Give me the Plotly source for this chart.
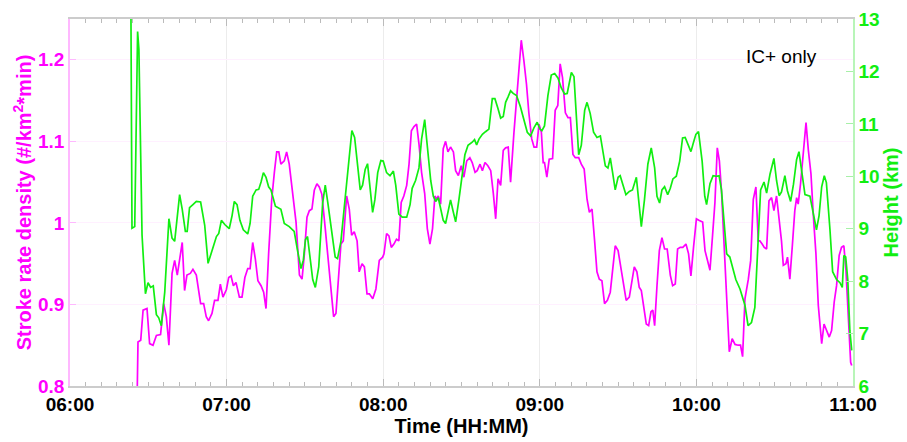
import pandas as pd
import plotly.graph_objects as go

# Minutes after 06:00 and stroke rate density (#/km^2*min), IC+ strokes
rate_minutes = [
    25.6, 26.05, 27.1, 28.0, 29.5, 30.5, 31.8, 33.1, 34.7, 35.9, 36.9, 37.9, 39.1, 40.1, 41.1, 42.0,
    43.0, 43.9, 44.8, 46.1, 47.1, 48.4, 50.05, 51.2, 52.2, 53.1, 54.4, 55.4, 56.7, 57.6, 58.6, 59.9,
    60.8, 61.7, 62.6, 63.6, 64.9, 65.9, 67.0, 68.1, 69.0, 70.0, 71.0, 72.0, 73.2, 74.2, 75.1, 76.1,
    77.3, 78.3, 79.2, 80.0, 80.8, 82.1, 83.0, 84.0, 85.3, 86.6, 87.9, 88.9, 89.8, 90.8, 91.7, 92.7,
    93.6, 94.6, 95.5, 96.5, 97.8, 99.1, 100.1, 101.0, 101.9, 102.9, 103.8, 104.7, 106.0, 107.0, 107.9,
    108.9, 110.0, 110.8, 111.9, 112.8, 113.8, 114.7, 116.0, 117.2, 118.5, 119.8, 120.3, 121.3, 122.2,
    123.1, 124.1, 125.1, 126.0, 126.9, 127.9, 129.0, 129.9, 130.8, 131.8, 132.8, 133.7, 134.7, 135.9,
    136.9, 137.9, 138.9, 139.8, 140.5, 141.1, 142.0, 143.0, 143.9, 144.8, 145.8, 146.9, 147.75, 148.8,
    149.9, 150.9, 152.0, 153.2, 154.1, 155.2, 156.0, 157.1, 158.0, 159.0, 160.1, 161.2, 162.2, 163.1,
    164.0, 165.0, 166.0, 166.9, 167.9, 168.8, 170.1, 171.1, 172.0, 172.9, 173.9, 174.9, 175.8, 176.9,
    177.8, 178.8, 179.7, 180.6, 181.3, 181.8, 182.7, 183.6, 184.9, 185.9, 186.9, 187.8, 188.7, 189.8,
    190.8, 191.7, 192.7, 193.6, 194.9, 195.9, 197.0, 198.1, 199.0, 200.0, 201.0, 201.9, 202.8, 203.8,
    204.8, 205.9, 207.0, 208.0, 208.9, 210.0, 211.2, 212.1, 213.1, 214.3, 215.3, 216.2, 217.2, 218.1,
    218.9, 219.8, 220.8, 221.7, 222.6, 223.3, 224.0, 224.9, 225.8, 226.8, 227.8, 228.8, 230.0, 230.9,
    231.9, 232.8, 233.8, 234.8, 236.0, 237.0, 237.9, 238.9, 240.0, 241.1, 242.4, 243.3, 244.2, 245.2,
    246.2, 247.1, 248.0, 248.8, 249.6, 250.5, 251.6, 252.6, 253.7, 254.8, 256.0, 256.9, 257.7, 258.6,
    259.9, 260.8, 261.8, 262.8, 263.7, 264.3, 265.2, 266.0, 266.9, 267.8, 268.8, 269.7, 270.7, 271.6,
    272.6, 273.3, 274.3, 274.9, 275.8, 276.8, 277.7, 278.4, 279.0, 279.9, 280.9, 282.0, 282.9, 283.9,
    284.8, 285.8, 286.7, 288.0, 288.9, 289.9, 290.9, 291.8, 292.8, 293.7, 294.7, 295.6, 296.5, 297.3,
    298.2, 299.1, 299.5,
]
rate_values = [
    0.76, 0.854, 0.856, 0.893, 0.895, 0.852, 0.850, 0.862, 0.863, 0.901, 0.885, 0.850, 0.938, 0.954, 0.936, 0.954,
    0.976, 0.917, 0.936, 0.938, 0.943, 0.936, 0.901, 0.901, 0.885, 0.880, 0.889, 0.905, 0.905, 0.925, 0.909, 0.918,
    0.933, 0.935, 0.923, 0.927, 0.909, 0.909, 0.933, 0.944, 0.944, 0.976, 0.956, 0.929, 0.923, 0.915, 0.895, 0.962,
    1.029, 1.062, 1.087, 1.087, 1.072, 1.076, 1.087, 1.072, 1.040, 1.001, 0.936, 0.931, 0.962, 1.007, 1.015, 1.017,
    1.040, 1.048, 1.044, 1.035, 0.993, 0.950, 0.915, 0.885, 0.889, 0.938, 0.974, 0.978, 1.033, 1.017, 0.985,
    0.989, 0.978, 0.940, 0.950, 0.946, 0.913, 0.913, 0.907, 0.919, 0.954, 0.958, 0.962, 0.987, 0.984,
    0.970, 0.974, 0.980, 0.978, 1.025, 1.033, 1.046, 1.072, 1.113, 1.118, 1.121, 1.097, 1.062, 1.036,
    0.993, 0.974, 0.993, 1.033, 1.029, 1.033, 1.023, 1.091, 1.100, 1.087, 1.093, 1.087, 1.064, 1.058,
    1.070, 1.056, 1.076, 1.080, 1.074, 1.062, 1.064, 1.072, 1.064, 1.074, 1.070, 1.064, 1.036, 1.005,
    1.054, 1.046, 1.089, 1.092, 1.093, 1.050, 1.111, 1.150, 1.182, 1.224, 1.199, 1.170, 1.135, 1.103,
    1.093, 1.093, 1.121, 1.111, 1.074, 1.074, 1.056, 1.078, 1.079, 1.138, 1.144, 1.195, 1.178, 1.135,
    1.129, 1.129, 1.084, 1.080, 1.080, 1.072, 1.066, 1.029, 1.013, 1.017, 0.978, 0.940, 0.931, 0.929,
    0.901, 0.905, 0.915, 0.950, 0.972, 0.966, 0.942, 0.923, 0.905, 0.909, 0.931, 0.946, 0.940, 0.921,
    0.917, 0.897, 0.876, 0.874, 0.891, 0.893, 0.874, 0.923, 0.966, 0.982, 0.968, 0.968, 0.936, 0.923,
    0.925, 0.968, 0.970, 0.970, 0.974, 0.962, 0.935, 0.970, 1.005, 1.003, 1.001, 0.966, 0.956, 0.942,
    0.985, 1.025, 1.092, 1.076, 1.040, 0.985, 0.915, 0.842, 0.858, 0.851, 0.850, 0.850, 0.836, 0.907,
    0.931, 0.954, 1.029, 1.044, 0.978, 0.978, 0.974, 0.970, 0.968, 1.027, 1.031, 1.015, 1.033, 1.009,
    0.978, 0.948, 0.950, 0.958, 0.931, 0.974, 1.015, 1.031, 1.023, 1.048, 1.087, 1.123, 1.089, 1.060,
    1.009, 0.962, 0.899, 0.852, 0.876, 0.868, 0.860, 0.868, 0.903, 0.923, 0.960, 0.970, 0.972, 0.942,
    0.884, 0.829, 0.825,
]

# Minutes after 06:00 and height (km)
height_minutes = [
    23.3, 23.75, 24.8, 25.9, 26.4, 27.6, 28.9, 29.9, 30.9, 31.9, 33.1, 34.0, 35.0, 36.3, 37.9, 39.1,
    40.1, 41.0, 42.0, 43.0, 44.2, 44.9, 45.8, 47.1, 48.4, 50.05, 51.6, 52.9, 54.1, 55.0, 56.1, 57.0,
    58.0, 59.3, 61.0, 62.1, 62.95, 64.0, 65.1, 66.4, 68.1, 69.0, 70.0, 71.3, 72.3, 73.2, 74.1, 75.1,
    76.1, 77.0, 78.7, 80.8, 82.1, 84.0, 85.9, 87.2, 88.5, 89.4, 90.2, 91.0, 91.9, 93.0, 94.0, 95.3,
    96.8, 97.8, 98.8, 100.4, 101.6, 102.5, 103.8, 105.5, 107.0, 108.0, 109.05, 110.2, 111.2, 112.1,
    113.1, 114.0, 114.9, 115.95, 116.8, 117.9, 119.1, 120.0, 121.3, 122.6, 123.9, 124.8, 126.0, 127.3,
    129.0, 130.3, 131.1, 132.4, 133.7, 134.7, 135.9, 136.9, 138.2, 139.2, 140.1, 141.1, 142.0, 143.0,
    143.9, 144.9, 145.8, 146.9, 147.75, 149.0, 150.3, 151.3, 152.5, 153.5, 154.1, 155.0, 155.8, 156.7,
    158.0, 159.2, 160.5, 161.8, 162.8, 164.0, 165.0, 166.0, 166.9, 167.8, 168.8, 169.8, 171.1, 172.6,
    173.9, 175.2, 176.5, 177.8, 179.0, 180.05, 180.8, 181.8, 183.1, 184.4, 185.7, 187.0, 188.2, 189.5,
    190.5, 191.3, 192.1, 193.1, 194.0, 194.9, 195.9, 197.2, 198.1, 199.3, 200.6, 201.9, 203.2, 204.2,
    205.1, 206.1, 207.0, 207.9, 208.9, 210.0, 210.8, 211.9, 213.0, 214.3, 215.5, 217.0, 217.9, 218.9,
    220.1, 221.4, 222.7, 224.0, 224.9, 225.9, 226.8, 227.8, 229.0, 230.0, 231.0, 232.3, 233.6, 234.7,
    235.7, 237.0, 237.9, 238.9, 239.8, 240.8, 242.2, 243.2, 243.9, 245.2, 246.4, 247.7, 248.7, 249.6,
    250.6, 251.6, 252.8, 253.5, 255.1, 256.7, 258.6, 259.8, 261.1, 262.4, 263.5, 264.6, 265.9, 266.9,
    268.2, 269.7, 270.7, 271.7, 272.6, 273.9, 274.9, 276.1, 277.2, 278.4, 279.3, 280.3, 281.6, 283.5,
    284.8, 286.0, 287.0, 288.0, 289.0, 289.8, 291.15, 292.2, 293.7, 295.0, 295.9, 296.5, 297.2, 298.0,
    298.8, 299.5,
]
height_values = [
    13.6, 9.01, 9.04, 12.76, 12.42, 8.88, 7.76, 7.97, 7.88, 7.91, 7.36, 7.30, 7.15, 7.79, 9.19, 8.82,
    8.76, 9.25, 9.65, 9.37, 8.95, 8.95, 9.40, 9.46, 9.52, 9.51, 9.07, 8.34, 8.52, 8.64, 8.85, 8.91,
    9.16, 9.08, 9.00, 9.25, 9.52, 9.46, 9.16, 8.98, 8.90, 9.10, 9.62, 9.74, 9.75, 9.89, 10.07, 9.98,
    9.80, 9.74, 9.43, 9.37, 9.10, 9.04, 8.95, 8.58, 8.24, 8.40, 8.79, 8.85, 8.49, 8.03, 7.88, 8.27,
    9.49, 9.83, 9.49, 8.88, 8.46, 8.43, 8.76, 9.62, 10.41, 10.87, 10.74, 10.23, 9.74, 9.83,
    10.13, 10.24, 9.74, 9.31, 9.55, 10.07, 10.30, 10.29, 10.07, 10.01, 10.10, 9.83, 9.28, 9.22,
    9.22, 9.46, 9.77, 9.92, 10.16, 10.71, 11.08, 10.59, 9.92, 9.62, 9.52, 9.59, 9.40, 9.16,
    9.10, 9.34, 9.55, 9.31, 9.13, 9.55, 10.01, 10.41, 10.59, 10.62, 10.65, 10.70, 10.60, 10.71,
    10.80, 10.85, 10.90, 11.48, 11.48, 11.29, 11.11, 11.14, 11.41, 11.51, 11.63, 11.58, 11.54, 11.32,
    11.05, 10.84, 10.77, 10.93, 11.03, 10.90, 10.87, 10.96, 11.54, 11.93, 11.96, 11.87, 11.69, 11.57,
    11.58, 11.78, 11.98, 11.90, 11.14, 10.41, 10.59, 11.26, 11.41, 11.20, 10.84, 10.74, 10.77, 10.47,
    10.20, 10.16, 10.35, 10.07, 9.74, 9.98, 10.01, 9.83, 9.65, 9.71, 9.74, 9.98, 9.49, 9.04,
    9.55, 10.23, 10.54, 10.16, 9.62, 9.49, 9.74, 9.80, 9.65, 9.77, 9.95, 10.00, 10.29, 10.73,
    10.74, 10.59, 10.47, 10.65, 10.80, 10.85, 10.29, 9.62, 9.46, 9.86, 10.01, 10.00, 10.01, 9.74,
    9.19, 8.52, 8.46, 8.34, 8.03, 7.85, 7.54, 7.15, 7.21, 7.50, 8.50, 9.74, 9.89, 9.68,
    10.04, 10.34, 9.92, 9.63, 9.70, 10.01, 9.72, 9.52, 9.85, 10.32, 10.47, 10.10, 9.65, 9.62,
    9.31, 8.98, 9.25, 9.80, 10.01, 9.88, 9.00, 8.18, 8.03, 7.97, 7.88, 8.49, 8.46, 8.03,
    7.05, 6.68,
]

rate_ticks = [0.8, 0.9, 1.0, 1.1, 1.2]
rate_ticktext = ["0.8", "0.9", "1", "1.1", "1.2"]
height_ticks = [6, 7, 8, 9, 10, 11, 12, 13]

start = pd.Timestamp("2000-01-01 06:00")
end = pd.Timestamp("2000-01-01 11:00")
rate_time = start + pd.to_timedelta(rate_minutes, unit="min")
height_time = start + pd.to_timedelta(height_minutes, unit="min")

MAGENTA = "#ff00ff"
GREEN = "#11ee11"
FONT = "Liberation Sans, Arial, sans-serif"

fig = go.Figure()
fig.add_trace(go.Scatter(x=height_time, y=height_values, yaxis="y2", mode="lines",
                         line=dict(color=GREEN, width=1.7), showlegend=False))
fig.add_trace(go.Scatter(x=rate_time, y=rate_values, yaxis="y", mode="lines",
                         line=dict(color=MAGENTA, width=1.7), showlegend=False))

fig.update_layout(
    width=907, height=442,
    margin=dict(l=70, r=54, t=9, b=51),
    paper_bgcolor="white", plot_bgcolor="white",
    font=dict(family=FONT, size=19, color="black"),
    xaxis=dict(
        type="date", range=[start, end],
        tickformat="%H:%M", dtick=3600000, tick0=start,
        ticks="inside", ticklen=7, tickcolor="#bbbbbb", tickwidth=1,
        minor=dict(dtick=360000, ticks="inside", ticklen=4, tickcolor="#bbbbbb", showgrid=False),
        showline=True, linecolor="#cccccc", linewidth=1.5, mirror="ticks",
        showgrid=True, gridcolor="#ececec", gridwidth=1,
        tickfont=dict(family=FONT, size=19, color="black", weight="bold"),
        title=dict(text="Time (HH:MM)", standoff=4,
                   font=dict(family=FONT, size=20, color="black", weight="bold")),
        zeroline=False,
    ),
    yaxis=dict(
        range=[0.8, 1.25], tickvals=rate_ticks, ticktext=rate_ticktext,
        ticks="inside", ticklen=6, tickcolor="#ffb8ff",
        showline=True, linecolor="#ffb8ff", linewidth=1.5,
        showgrid=True, gridcolor="#fff0ff", gridwidth=1, zeroline=False,
        tickfont=dict(family=FONT, size=19, color=MAGENTA, weight="bold"),
        title=dict(text="Stroke rate density (#/km<sup>2</sup>*min)", standoff=1,
                   font=dict(family=FONT, size=20, color=MAGENTA, weight="bold")),
    ),
    yaxis2=dict(
        overlaying="y", side="right", range=[6, 13], tickvals=height_ticks,
        ticks="inside", ticklen=7, tickcolor="#a8f0a8",
        showline=True, linecolor="#b8f5b8", linewidth=1.5,
        showgrid=False, zeroline=False,
        tickfont=dict(family=FONT, size=19, color=GREEN, weight="bold"),
        title=dict(text="Height (km)", standoff=3,
                   font=dict(family=FONT, size=20, color=GREEN, weight="bold")),
    ),
    annotations=[dict(text="IC+ only", xref="paper", yref="paper", x=0.909, y=0.898,
                      xanchor="center", yanchor="middle", showarrow=False,
                      font=dict(family=FONT, size=19, color="black"))],
)

fig.write_html("out.html")
